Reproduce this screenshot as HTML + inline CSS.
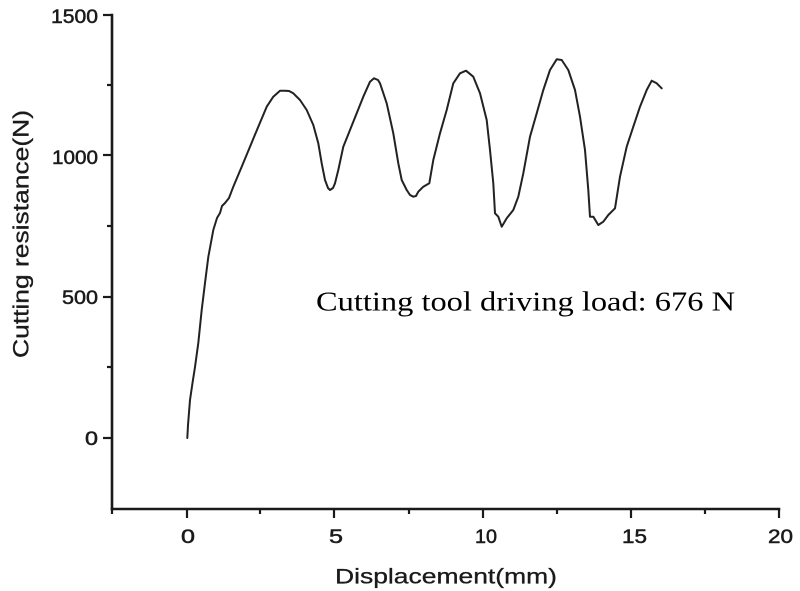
<!DOCTYPE html>
<html><head><meta charset="utf-8"><style>
html,body{margin:0;padding:0;background:#fff;}
svg{display:block;}
</style></head><body>
<svg width="800" height="591" viewBox="0 0 800 591" xmlns="http://www.w3.org/2000/svg">
<rect width="800" height="591" fill="#fff"/>
<!-- axes -->
<g stroke="#1a1a1a" stroke-width="2.6" fill="none" stroke-linecap="square">
<line x1="112" y1="15" x2="112" y2="509"/>
<line x1="112" y1="509" x2="779" y2="509"/>
</g>
<!-- y ticks -->
<g stroke="#1a1a1a" stroke-width="2.2">
<line x1="103" y1="15" x2="112" y2="15"/>
<line x1="103" y1="155" x2="112" y2="155"/>
<line x1="103" y1="297" x2="112" y2="297"/>
<line x1="103" y1="438" x2="112" y2="438"/>
<line x1="107" y1="85" x2="112" y2="85"/>
<line x1="107" y1="226" x2="112" y2="226"/>
<line x1="107" y1="367" x2="112" y2="367"/>
</g>
<!-- x ticks -->
<g stroke="#1a1a1a" stroke-width="2.2">
<line x1="187" y1="509" x2="187" y2="518"/>
<line x1="334" y1="509" x2="334" y2="518"/>
<line x1="483" y1="509" x2="483" y2="518"/>
<line x1="631" y1="509" x2="631" y2="518"/>
<line x1="779" y1="509" x2="779" y2="518"/>
<line x1="112" y1="509" x2="112" y2="514"/>
<line x1="260" y1="509" x2="260" y2="514"/>
<line x1="409" y1="509" x2="409" y2="514"/>
<line x1="557" y1="509" x2="557" y2="514"/>
<line x1="705" y1="509" x2="705" y2="514"/>
</g>
<!-- y tick labels -->
<g font-family="Liberation Sans, Arial, sans-serif" font-size="19" fill="#1a1a1a" stroke="#1a1a1a" stroke-width="0.5" text-anchor="end">
<text x="98" y="23" textLength="47" lengthAdjust="spacingAndGlyphs">1500</text>
<text x="98" y="164" textLength="46" lengthAdjust="spacingAndGlyphs">1000</text>
<text x="98" y="304" textLength="36" lengthAdjust="spacingAndGlyphs">500</text>
<text x="98" y="445" textLength="13" lengthAdjust="spacingAndGlyphs">0</text>
</g>
<!-- x tick labels -->
<g font-family="Liberation Sans, Arial, sans-serif" font-size="19" fill="#1a1a1a" stroke="#1a1a1a" stroke-width="0.5">
<text x="181" y="543" textLength="14" lengthAdjust="spacingAndGlyphs">0</text>
<text x="329" y="543" textLength="14" lengthAdjust="spacingAndGlyphs">5</text>
<text x="475" y="543" textLength="22" lengthAdjust="spacingAndGlyphs">10</text>
<text x="622" y="543" textLength="25" lengthAdjust="spacingAndGlyphs">15</text>
<text x="768" y="543" textLength="25" lengthAdjust="spacingAndGlyphs">20</text>
</g>
<!-- axis titles -->
<text x="335" y="583.5" font-family="Liberation Sans, Arial, sans-serif" font-size="21" fill="#1a1a1a" stroke="#1a1a1a" stroke-width="0.3" textLength="222" lengthAdjust="spacingAndGlyphs">Displacement(mm)</text>
<text transform="translate(28.5,358) rotate(-90)" x="0" y="0" font-family="Liberation Sans, Arial, sans-serif" font-size="22" fill="#1a1a1a" stroke="#1a1a1a" stroke-width="0.3" textLength="248" lengthAdjust="spacingAndGlyphs">Cutting resistance(N)</text>
<!-- annotation -->
<text x="316" y="310.7" font-family="Liberation Serif, Times New Roman, serif" font-size="27" fill="#000" textLength="419" lengthAdjust="spacingAndGlyphs">Cutting tool driving load: 676 N</text>
<!-- curve -->
<polyline fill="none" stroke="#222" stroke-width="2" stroke-linejoin="round" stroke-linecap="round" points="
187.3,438 188,425 190,400 192.5,383 195,367 198.3,343 201.7,310 205,283 208.3,257 213.3,230 217,218 220,213 222,206 225,203 229,198 233.3,186.7 241.7,166.7 250,146.7 258.3,126.7 266.7,106.7 273.3,96.7 280,90.7 285,90.7 289,91 293.3,93.3 300,100 306.7,110 313.3,125 318.3,143.3 321.7,163.3 325,180 328,188 330,190 333,188 335,183.3 338.3,170 343.3,146.7 350,130 356.7,113.3 363.3,96.7 370,81.7 374,78.3 378,80 380,83.3 386.7,103.3 393.3,133.3 398.3,163.3 401.7,180 406.7,190 410,195 413.3,196.7 416,196 418.3,191.7 423.3,186.7 429.3,183.3 433.3,160 440,133.3 446.7,110 453.3,83.3 460,73.3 466,70.7 473.3,76.7 480,93.3 486.7,120 490,150 493.3,183.3 495,213.3 498.3,216.7 501.7,226.7 506.7,218.3 513.3,210 518.3,196.7 523.3,173.3 530,136.7 536.7,113.3 543.3,90 550,70 556.7,59.3 561.7,60 568.3,70 575,90 580,116.7 585,150 588.3,190 590,216.7 593.3,216.7 598.3,225 603.3,221.7 608.3,215 615,208.3 620,176.7 626.7,146.7 633.3,126.7 640,106.7 646.7,90 651.7,80.7 656.7,83.3 661.7,88.3"/>
</svg>
</body></html>
